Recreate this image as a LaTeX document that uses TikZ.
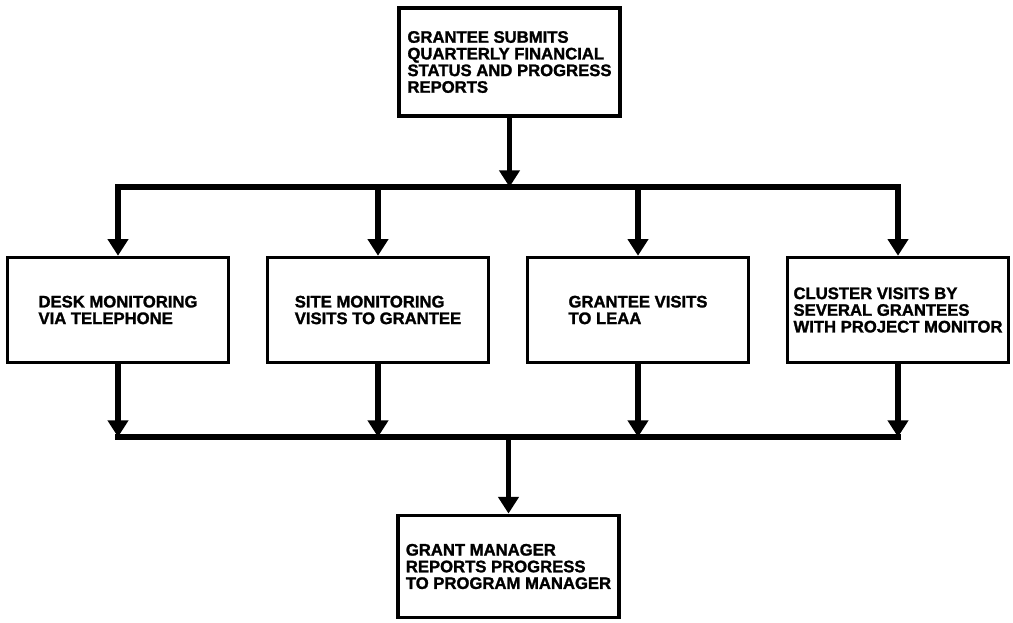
\documentclass[tikz,border=0pt]{standalone}
\usepackage{fontspec}
\setmainfont{Liberation Sans}[BoldFeatures={FakeBold=1.5}]
\usetikzlibrary{arrows.meta}
\tikzset{
  box/.style={draw,line width=2.4pt,minimum width=165.75pt,minimum height=79pt,
    inner sep=0pt,align=left,font=\fontsize{12.5}{12.5}\selectfont\bfseries},
  wire/.style={line width=3.8pt,line cap=rect},
  flow/.style={line width=3.8pt,-{Triangle[width=15pt,length=12.5pt]}},
}
\begin{document}
\begin{tikzpicture}[x=0.75pt,y=-0.75pt]
\useasboundingbox (0,0) rectangle (1013,622);
% top: grantee reports
\node[box,minimum height=81pt] (submit) at (509.5,62) {GRANTEE SUBMITS\\QUARTERLY FINANCIAL\\STATUS AND PROGRESS\\REPORTS};
% four monitoring ways
\node[box] (desk) at (118,310) {DESK MONITORING\\VIA TELEPHONE};
\node[box] (site) at (378,310) {SITE MONITORING\\VISITS TO GRANTEE};
\node[box] (visit) at (638,310) {GRANTEE VISITS\\TO LEAA};
\node[box] (cluster) at (898,310) {CLUSTER VISITS BY\\SEVERAL GRANTEES\\WITH PROJECT MONITOR};
% bottom: grant manager
\node[box,minimum height=77pt] (report) at (508.5,566.5) {GRANT MANAGER\\REPORTS PROGRESS\\TO PROGRAM MANAGER};
% buses
\coordinate (tb) at (509.5,187);
\coordinate (bb) at (508.5,437);
\draw[flow] (submit) -- (tb);
\draw[wire] (desk.north |- tb) -- (cluster.north |- tb);
\foreach \n in {desk,site,visit,cluster}
  \draw[flow] (\n.north |- tb) -- (\n.north);
\foreach \n in {desk,site,visit,cluster}
  \draw[flow] (\n.south) -- (\n.south |- bb);
\draw[wire] (desk.south |- bb) -- (cluster.south |- bb);
\draw[flow] (bb) -- (report);
\end{tikzpicture}
\end{document}
